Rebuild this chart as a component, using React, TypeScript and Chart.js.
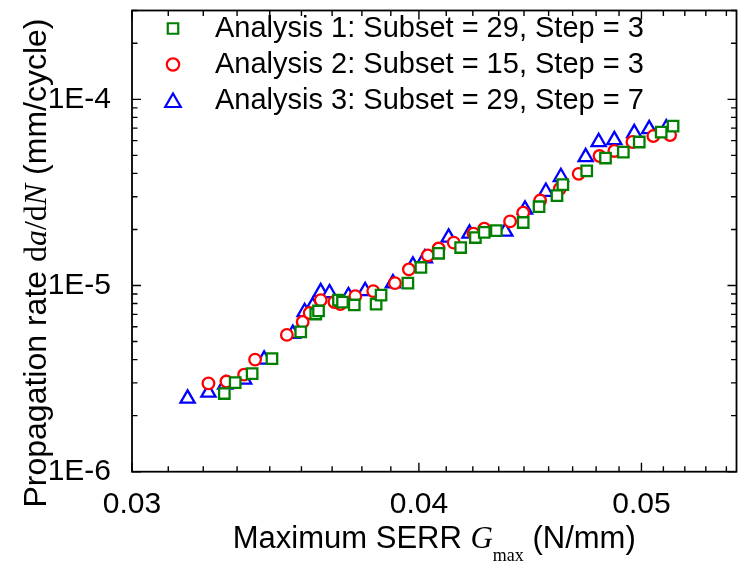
import React, { useEffect, useRef } from 'react';
import { Chart, registerables } from 'chart.js';

Chart.register(...registerables);

// ---- Axis ranges & ticks ----
const X_MIN = 0.03;
const X_MAX = 0.055;
const Y_MIN = 1e-6;
const Y_MAX = 3e-4;
const X_MAJOR_TICKS = [0.03, 0.04, 0.05];
const X_TICK_LABELS = ['0.03', '0.04', '0.05'];
const X_MINOR_PER_INTERVAL = 8;
const Y_MAJOR_TICKS = [1e-6, 1e-5, 1e-4];
const Y_TICK_LABELS = ['1E-6', '1E-5', '1E-4'];

// ---- Series ----
const SERIES_LABELS = [
  'Analysis 1: Subset = 29, Step = 3',
  'Analysis 2: Subset = 15, Step = 3',
  'Analysis 3: Subset = 29, Step = 7',
];

const A1_X = [0.03291, 0.03327, 0.03384, 0.03452, 0.03553, 0.03607, 0.03617, 0.0369, 0.03705, 0.03749, 0.03832, 0.03851, 0.03956, 0.04008, 0.0408, 0.04171, 0.04233, 0.04271, 0.04323, 0.04441, 0.04512, 0.04594, 0.04621, 0.04733, 0.04823, 0.0491, 0.04989, 0.051, 0.05161];
const A1_Y = [2.63e-6, 3.01e-6, 3.36e-6, 4.05e-6, 5.64e-6, 7.03e-6, 7.3e-6, 8.35e-6, 8.15e-6, 7.86e-6, 7.95e-6, 8.88e-6, 1.03e-5, 1.25e-5, 1.49e-5, 1.6e-5, 1.81e-5, 1.93e-5, 1.97e-5, 2.18e-5, 2.65e-5, 3.04e-5, 3.48e-5, 4.13e-5, 4.84e-5, 5.21e-5, 5.9e-5, 6.67e-5, 7.18e-5];

const A2_X = [0.03239, 0.03298, 0.03357, 0.03394, 0.03504, 0.0356, 0.03585, 0.03625, 0.03675, 0.03697, 0.03753, 0.03821, 0.03905, 0.0396, 0.04036, 0.0408, 0.04142, 0.04225, 0.04271, 0.04383, 0.04441, 0.04517, 0.04607, 0.04695, 0.04794, 0.04866, 0.04955, 0.0506, 0.05146];
const A2_Y = [2.98e-6, 3.05e-6, 3.32e-6, 4.0e-6, 5.43e-6, 6.37e-6, 7.12e-6, 8.35e-6, 8.15e-6, 7.95e-6, 8.77e-6, 9.33e-6, 1.03e-5, 1.22e-5, 1.45e-5, 1.58e-5, 1.7e-5, 1.9e-5, 2.02e-5, 2.21e-5, 2.46e-5, 2.86e-5, 3.31e-5, 3.98e-5, 4.96e-5, 5.28e-5, 5.9e-5, 6.35e-5, 6.43e-5];

const A3_X = [0.03172, 0.03239, 0.03294, 0.03357, 0.03425, 0.03525, 0.03567, 0.03596, 0.03625, 0.03657, 0.03727, 0.0379, 0.03897, 0.03976, 0.04024, 0.04121, 0.04208, 0.04362, 0.04449, 0.04543, 0.04612, 0.04728, 0.0479, 0.04866, 0.04964, 0.05039, 0.05126];
const A3_Y = [2.47e-6, 2.66e-6, 2.94e-6, 3.13e-6, 4.0e-6, 5.5e-6, 7.21e-6, 7.76e-6, 9.22e-6, 9.1e-6, 8.77e-6, 9.33e-6, 1.03e-5, 1.28e-5, 1.4e-5, 1.81e-5, 1.9e-5, 1.95e-5, 2.56e-5, 3.19e-5, 3.83e-5, 4.9e-5, 5.9e-5, 6.04e-5, 6.59e-5, 6.92e-5, 7.0e-5];

const COLORS = ['#008000', '#ff0000', '#0000ff'];
const STYLES = ['rect', 'circle', 'triangle'];
const RADII = [7.4, 5.8, 8.2];
const LEGEND_RADII = [7.4, 6.2, 9];

const SANS = '"Liberation Sans", Arial, sans-serif';
const SERIF = '"Liberation Serif", "Times New Roman", serif';

const toPoints = (xs: number[], ys: number[]) => xs.map((x, i) => ({ x, y: ys[i] }));

function xTickList() {
  const list: { value: number; major: boolean }[] = [];
  const step = X_MAJOR_TICKS[1] - X_MAJOR_TICKS[0];
  X_MAJOR_TICKS.forEach((m) => {
    list.push({ value: m, major: true });
    for (let k = 1; k <= X_MINOR_PER_INTERVAL; k++) {
      const v = m + (k * step) / (X_MINOR_PER_INTERVAL + 1);
      if (v < X_MAX) list.push({ value: v, major: false });
    }
  });
  return list;
}

function yTickList() {
  const list: { value: number; major: boolean }[] = [];
  Y_MAJOR_TICKS.forEach((d) => {
    for (let k = 1; k <= 9; k++) {
      const v = k * d;
      if (v <= Y_MAX * 1.0001) list.push({ value: v, major: k === 1 });
    }
  });
  return list;
}

function labelFor(v: number, values: number[], labels: string[]) {
  for (let i = 0; i < values.length; i++) {
    if (Math.abs(v - values[i]) / values[i] < 1e-6) return labels[i];
  }
  return '';
}

function drawMarker(ctx: CanvasRenderingContext2D, style: string, x: number, y: number, r: number) {
  ctx.beginPath();
  if (style === 'circle') {
    ctx.arc(x, y, r, 0, Math.PI * 2);
  } else if (style === 'rect') {
    const s = Math.SQRT1_2 * r;
    ctx.rect(x - s, y - s, 2 * s, 2 * s);
  } else {
    const a = Math.PI / 3;
    ctx.moveTo(x, y - r);
    ctx.lineTo(x + Math.sin(a * 2) * r, y + 0.5 * r);
    ctx.lineTo(x - Math.sin(a * 2) * r, y + 0.5 * r);
    ctx.closePath();
  }
  ctx.fill();
  ctx.stroke();
}

type Run = { t: string; f: string; dy?: number };
function runsWidth(ctx: CanvasRenderingContext2D, runs: Run[]) {
  let w = 0;
  runs.forEach((r) => {
    ctx.font = r.f;
    w += ctx.measureText(r.t).width;
  });
  return w;
}
function drawRuns(ctx: CanvasRenderingContext2D, runs: Run[], x: number, y: number) {
  let cx = x;
  runs.forEach((r) => {
    ctx.font = r.f;
    ctx.fillText(r.t, cx, y + (r.dy || 0));
    cx += ctx.measureText(r.t).width;
  });
}

const framePlugin = {
  id: 'frame',
  afterDatasetsDraw(chart: any) {
    const { ctx, chartArea: a, scales } = chart;
    const xs = scales.x;
    const ys = scales.y;
    ctx.save();
    ctx.strokeStyle = '#000';
    ctx.lineWidth = 1.8;
    ctx.strokeRect(a.left, a.top, a.right - a.left, a.bottom - a.top);
    ctx.beginPath();
    xs.ticks.forEach((t: any) => {
      const p = xs.getPixelForValue(t.value);
      if (p < a.left - 0.5 || p > a.right + 0.5) return;
      const len = t.major ? 9 : 5.5;
      ctx.moveTo(p, a.bottom);
      ctx.lineTo(p, a.bottom - len);
      ctx.moveTo(p, a.top);
      ctx.lineTo(p, a.top + len);
    });
    ys.ticks.forEach((t: any) => {
      const p = ys.getPixelForValue(t.value);
      if (p < a.top - 0.5 || p > a.bottom + 0.5) return;
      const len = t.major ? 9 : 5.5;
      ctx.moveTo(a.left, p);
      ctx.lineTo(a.left + len, p);
      ctx.moveTo(a.right, p);
      ctx.lineTo(a.right - len, p);
    });
    ctx.lineWidth = 1.4;
    ctx.stroke();
    ctx.restore();
  },
};

const titlesPlugin = {
  id: 'titles',
  afterDraw(chart: any) {
    const { ctx, chartArea: a } = chart;
    ctx.save();
    ctx.fillStyle = '#000';
    ctx.textBaseline = 'alphabetic';
    ctx.textAlign = 'left';
    // x title
    const xr: Run[] = [
      { t: 'Maximum SERR ', f: `31px ${SANS}` },
      { t: 'G', f: `italic 31px ${SERIF}` },
      { t: 'max', f: `18px ${SERIF}`, dy: 13 },
      { t: ' (N/mm)', f: `31px ${SANS}` },
    ];
    const xw = runsWidth(ctx, xr);
    drawRuns(ctx, xr, (a.left + a.right) / 2 - xw / 2, 548);
    // y title
    const yr: Run[] = [
      { t: 'Propagation rate ', f: `32px ${SANS}` },
      { t: 'd', f: `32px ${SERIF}` },
      { t: 'a', f: `italic 32px ${SERIF}` },
      { t: '/d', f: `32px ${SERIF}` },
      { t: 'N', f: `italic 32px ${SERIF}` },
      { t: ' (mm/cycle)', f: `32px ${SANS}` },
    ];
    const yw = runsWidth(ctx, yr);
    ctx.translate(46, 0);
    ctx.rotate(-Math.PI / 2);
    drawRuns(ctx, yr, -(263 + yw / 2), 0);
    ctx.restore();
  },
};

const legendPlugin = {
  id: 'customLegend',
  afterDraw(chart: any) {
    const { ctx } = chart;
    ctx.save();
    chart.data.datasets.forEach((ds: any, i: number) => {
      const cy = 28.5 + i * 36;
      ctx.strokeStyle = COLORS[i];
      ctx.fillStyle = '#fff';
      ctx.lineWidth = 2.2;
      drawMarker(ctx, STYLES[i], 173, cy + (STYLES[i] === 'triangle' ? 2 : 0), LEGEND_RADII[i]);
      ctx.fillStyle = '#000';
      ctx.font = `29px ${SANS}`;
      ctx.textBaseline = 'alphabetic';
      ctx.textAlign = 'left';
      ctx.fillText(ds.label, 215, cy + 8.5);
    });
    ctx.restore();
  },
};

export default function App() {
  const ref = useRef<HTMLCanvasElement>(null);
  useEffect(() => {
    const seriesX = [A1_X, A2_X, A3_X];
    const seriesY = [A1_Y, A2_Y, A3_Y];
    const chart = new Chart(ref.current as HTMLCanvasElement, {
      type: 'scatter',
      data: {
        datasets: SERIES_LABELS.map((label, i) => ({
          label,
          data: toPoints(seriesX[i], seriesY[i]),
          pointStyle: STYLES[i] as any,
          pointRadius: RADII[i],
          pointHoverRadius: RADII[i],
          borderColor: COLORS[i],
          backgroundColor: '#ffffff',
          pointBorderWidth: 2.3,
          borderWidth: 2.3,
          showLine: false,
        })),
      },
      options: {
        responsive: false,
        devicePixelRatio: 1,
        animation: false,
        events: [],
        layout: { padding: { top: 7, right: 5, left: 0, bottom: 0 } },
        plugins: {
          legend: { display: false },
          tooltip: { enabled: false },
          title: { display: false },
        },
        scales: {
          x: {
            type: 'logarithmic',
            position: 'bottom',
            min: X_MIN,
            max: X_MAX,
            grid: { display: false },
            border: { display: false },
            afterBuildTicks: (s: any) => {
              s.ticks = xTickList();
            },
            afterFit: (s: any) => {
              s.height = 92.3;
              s.paddingLeft = 0;
              s.paddingRight = 0;
              s.paddingTop = 0;
              s.paddingBottom = 0;
            },
            ticks: {
              autoSkip: false,
              maxRotation: 0,
              minRotation: 0,
              padding: 7,
              color: '#000',
              font: { family: SANS, size: 30 },
              callback: (v: any) => labelFor(Number(v), X_MAJOR_TICKS, X_TICK_LABELS),
            },
          },
          y: {
            type: 'logarithmic',
            position: 'left',
            min: Y_MIN,
            max: Y_MAX,
            grid: { display: false },
            border: { display: false },
            afterBuildTicks: (s: any) => {
              s.ticks = yTickList();
            },
            afterFit: (s: any) => {
              s.width = 132;
              s.paddingTop = 0;
              s.paddingBottom = 0;
              s.paddingLeft = 0;
              s.paddingRight = 0;
            },
            ticks: {
              autoSkip: false,
              padding: 13,
              color: '#000',
              font: { family: SANS, size: 30 },
              callback: (v: any) => labelFor(Number(v), Y_MAJOR_TICKS, Y_TICK_LABELS),
            },
          },
        },
      },
      plugins: [framePlugin, titlesPlugin, legendPlugin],
    } as any);
    return () => chart.destroy();
  }, []);
  return (
    <div style={{ position: 'fixed', left: 0, top: 0, width: 747, height: 564, background: '#fff' }}>
      <canvas ref={ref} width={747} height={564} style={{ display: 'block', width: 747, height: 564 }} />
    </div>
  );
}
